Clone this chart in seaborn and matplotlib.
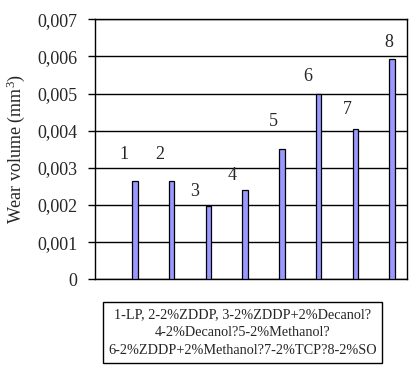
import matplotlib
matplotlib.use("Agg")
import matplotlib.pyplot as plt
import seaborn as sns
import pandas as pd
from matplotlib.patches import Rectangle

categories = ["1", "2", "3", "4", "5", "6", "7", "8"]
wear_volume = [0.00265, 0.00265, 0.00198, 0.00241, 0.00350, 0.00500, 0.00404, 0.00592]
tick_values = [0, 0.001, 0.002, 0.003, 0.004, 0.005, 0.006, 0.007]
tick_labels = ["0", "0,001", "0,002", "0,003", "0,004", "0,005", "0,006", "0,007"]
legend_lines = [
    "1-LP, 2-2%ZDDP, 3-2%ZDDP+2%Decanol?",
    "4-2%Decanol?5-2%Methanol?",
    "6-2%ZDDP+2%Methanol?7-2%TCP?8-2%SO",
]
# label offsets (pixels) relative to bar top centre
label_dx = [-10.7, -11.8, -13.5, -13, -8.7, -11, -8, -3]
label_dy = [26, 26, 14.3, 14, 27.6, 17.3, 19.3, 16.6]

sns.set_style("white")
plt.rcParams["font.family"] = ["Liberation Serif", "DejaVu Serif"]
plt.rcParams["mathtext.fontset"] = "custom"
plt.rcParams["mathtext.rm"] = "Liberation Serif"
plt.rcParams["mathtext.it"] = "Liberation Serif:italic"

W, H = 416, 376
fig = plt.figure(figsize=(W / 100, H / 100), dpi=100)
fig.patch.set_facecolor("white")
ax = fig.add_axes([95.3 / W, 1 - 279.3 / H, (406.7 - 95.3) / W, (279.3 - 19.3) / H])

df = pd.DataFrame({"cat": categories, "val": wear_volume})
sns.barplot(data=df, x="cat", y="val", ax=ax, color="#9999FF", saturation=1,
            width=0.145, edgecolor="black", linewidth=0.9, zorder=3)

ax.set_xlim(-1.081, 7.40)
ax.set_ylim(0, 0.007)
ax.set_yticks(tick_values)
ax.set_yticklabels(tick_labels, fontsize=13)
ax.set_xticks([])
ax.set_xlabel("")
ax.set_ylabel("Wear volume (mm$^{3}$)", fontsize=13, labelpad=7)
ax.tick_params(axis="y", length=5, width=1, color="black", pad=8, left=True)
ax.yaxis.grid(True, color="black", linewidth=1, zorder=0)
ax.set_axisbelow(True)
for s in ax.spines.values():
    s.set_visible(True)
    s.set_color("black")
    s.set_linewidth(1)

for i, (cat, v) in enumerate(zip(categories, wear_volume)):
    ax.annotate(cat, xy=(i, v), xytext=(label_dx[i] * 0.72, label_dy[i] * 0.72),
                textcoords="offset points", ha="center", va="center", fontsize=13)

fig.patches.append(Rectangle((103.3 / W, 1 - 362.7 / H), (382.3 - 103.3) / W, (362.7 - 301.7) / H,
                             transform=fig.transFigure, fill=False, edgecolor="black",
                             linewidth=1))
line_y = [315, 332.7, 351]
for txt, yy in zip(legend_lines, line_y):
    fig.text(242.8 / W, 1 - yy / H, txt, ha="center", va="center", fontsize=10.3)

fig.savefig("out.png", dpi=100, facecolor="white")
